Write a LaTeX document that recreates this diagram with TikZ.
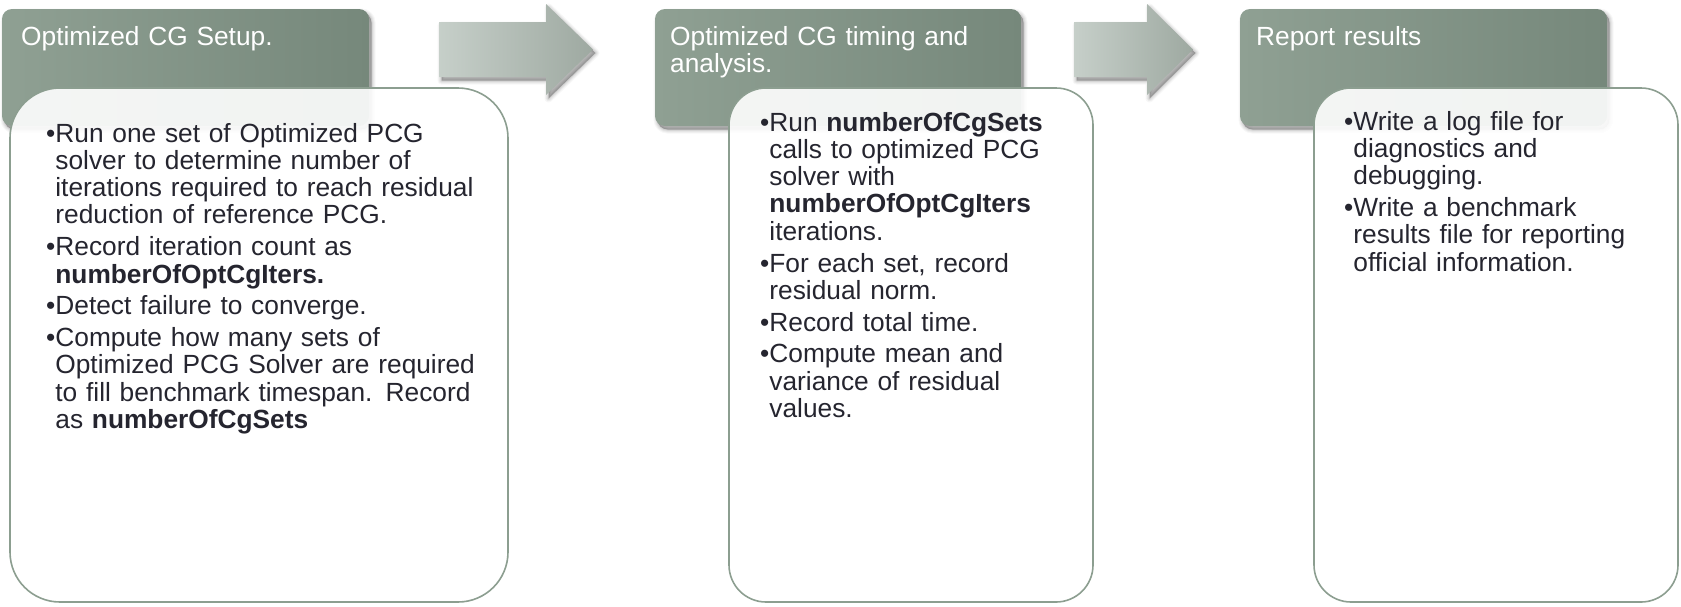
\documentclass[tikz,border=0pt]{standalone}
\usepackage{fontspec}
\setmainfont{Liberation Sans}
\definecolor{tabL}{RGB}{143,160,147}
\definecolor{tabR}{RGB}{118,136,123}
\definecolor{arrL}{RGB}{198,207,201}
\definecolor{arrR}{RGB}{158,169,161}
\definecolor{boxline}{RGB}{140,158,144}
\definecolor{bodytext}{RGB}{37,37,47}
\newlength\bulw
% bullet paragraph with hanging indent
\newcommand\bitem{\hangindent=\bulw\hangafter=1\noindent\makebox[\bulw][l]{\textbullet}}
\newcommand\bodyfont{\fontsize{26.3}{27.3}\selectfont\settowidth{\bulw}{\textbullet}\setlength\parskip{4.5pt}\setlength\parindent{0pt}\raggedright}

\begin{document}
\begin{tikzpicture}[x=1pt,y=-1pt,
  tabshape/.style={rounded corners=10pt,left color=tabL,right color=tabR},
  arrowshape/.style={left color=arrL,right color=arrR},
  panel/.style={draw=boxline,line width=1.6pt,fill=white,fill opacity=0.9},
  titletext/.style={anchor=north west,inner sep=0pt,text=white,text width=340pt,
    font=\fontsize{26.3}{27.3}\selectfont\raggedright},
  bodytext/.style={anchor=north west,inner sep=0pt,text=bodytext,font=\bodyfont}]

\useasboundingbox (0,0) rectangle (1681,606);

% soft shadow: stacked translucent copies of a path, shifted down-right
\def\softshadow#1#2{%
  \begin{scope}[shift={(2.5,3.5)}]
    \foreach \w/\o in {8/0.03,6/0.04,4/0.05,2/0.07}
      \draw[black,line width=\w pt,opacity=\o,line join=round,#1] #2;
    \fill[black,opacity=0.28,#1] #2;
  \end{scope}}

% ---- tabs ----
\softshadow{rounded corners=10pt}{(2,9) rectangle (369,126)}
\softshadow{rounded corners=10pt}{(655,9) rectangle (1021,126)}
\softshadow{rounded corners=10pt}{(1240,9) rectangle (1607,126)}
\path[tabshape] (2,9) rectangle (369,126);
\path[tabshape] (655,9) rectangle (1021,126);
\path[tabshape] (1240,9) rectangle (1607,126);

\node[titletext] (t1) at (21,25.8) {Optimized CG Setup.};
\node[titletext] (t2) at (670,25.8) {Optimized CG timing and\newline analysis.};
\node[titletext] (t3) at (1256,25.8) {Report results};

% ---- process arrows ----
\softshadow{}{(439,22) -- (546,22) -- (546,4) -- (593,49.5) -- (546,95) -- (546,77) -- (439,77) -- cycle}
\path[arrowshape] (439,22) -- (546,22) -- (546,4) -- (593,49.5) -- (546,95) -- (546,77) -- (439,77) -- cycle;
\softshadow{}{(1074,22) -- (1147,22) -- (1147,4) -- (1193,49.5) -- (1147,95) -- (1147,77) -- (1074,77) -- cycle}
\path[arrowshape] (1074,22) -- (1147,22) -- (1147,4) -- (1193,49.5) -- (1147,95) -- (1147,77) -- (1074,77) -- cycle;

% ---- content panels ----
\path[panel,rounded corners=50pt] (10,88) rectangle (508,602);
\path[panel,rounded corners=37pt] (729,88) rectangle (1093,602);
\path[panel,rounded corners=37pt] (1314,88) rectangle (1678,602);

\node[bodytext,text width=460pt] (b1) at (46,122.8) {%
\bitem Run one set of Optimized PCG\newline solver to determine number of\newline iterations required to reach residual\newline reduction of reference PCG.\par
\bitem Record iteration count as\newline \textbf{numberOfOptCgIters.}\par
\bitem Detect failure to converge.\par
\bitem Compute how many sets of\newline Optimized PCG Solver are required\newline to fill benchmark timespan. Record\newline as \textbf{numberOfCgSets}\par};

\node[bodytext,text width=320pt] (b2) at (760,111.8) {%
\bitem Run \textbf{numberOfCgSets}\newline calls to optimized PCG\newline solver with\newline \textbf{numberOfOptCgIters}\newline iterations.\par
\bitem For each set, record\newline residual norm.\par
\bitem Record total time.\par
\bitem Compute mean and\newline variance of residual\newline values.\par};

\node[bodytext,text width=320pt] (b3) at (1344,110.8) {%
\bitem Write a log file for\newline diagnostics and\newline debugging.\par
\bitem Write a benchmark\newline results file for reporting\newline official information.\par};

\end{tikzpicture}
\end{document}
